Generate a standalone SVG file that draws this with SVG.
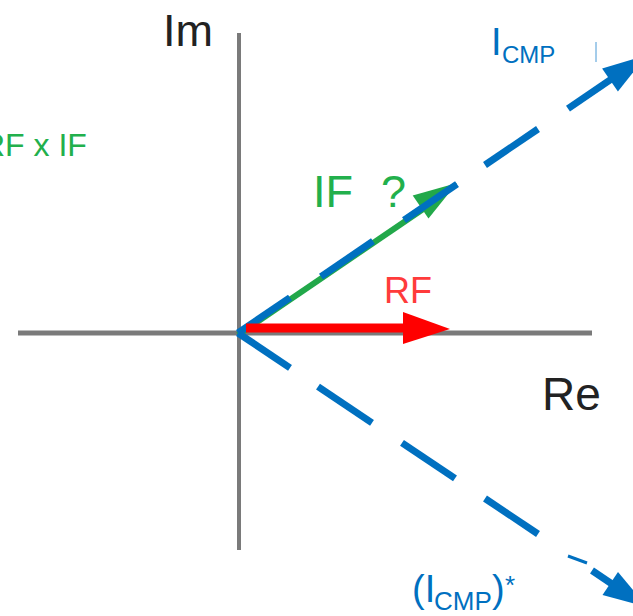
<svg xmlns="http://www.w3.org/2000/svg" width="633" height="616" viewBox="0 0 633 616">
<style>
text{font-family:"Liberation Sans",Arial,sans-serif}
.axis{stroke:#7a7a7a;fill:none}
.blue{stroke:#0070c0;stroke-width:7;fill:none;stroke-linecap:butt}
.bluefill{fill:#0070c0}
.lbl-blue{fill:#0070c0}
.lbl-green{fill:#22b04c}
.lbl-dark{fill:#222}
</style>
<rect width="633" height="616" fill="#fff"/>
<g id="axes">
<line class="axis" x1="18" y1="333" x2="592" y2="333" stroke-width="5"/>
<line class="axis" x1="239" y1="33" x2="239" y2="550" stroke-width="4" stroke="#6e6e6e"/>
</g>
<g id="connectors">
<g id="if-vector">
<line x1="238" y1="335" x2="432" y2="203" stroke="#22a84a" stroke-width="6"/>
<polygon points="457,183 412.7,195.4 428.5,218.6" fill="#22a84a"/>
</g>
<g id="icmp-vector">
<line class="blue" x1="238" y1="333" x2="290" y2="297.6"/>
<line class="blue" x1="321" y1="276.6" x2="373" y2="241.2"/>
<line class="blue" x1="404" y1="220.1" x2="457" y2="184.1"/>
<line class="blue" x1="485" y1="165" x2="538" y2="129"/>
<line class="blue" x1="568" y1="108.6" x2="612" y2="78.6"/>
<polygon class="bluefill" points="647,55 602.1,68.4 617.9,91.6"/>
<line x1="596" y1="42" x2="596" y2="62" stroke="#4a9ad6" stroke-width="1"/>
</g>
<g id="icmp-conj-vector">
<line class="blue" x1="238" y1="333" x2="290" y2="367.8"/>
<line class="blue" x1="318" y1="386.6" x2="372" y2="422.8"/>
<line class="blue" x1="402" y1="442.9" x2="455" y2="478.4"/>
<line class="blue" x1="485" y1="498.5" x2="538" y2="534"/>
<line x1="568" y1="556" x2="587" y2="563" stroke="#0070c0" stroke-width="3"/>
<line class="blue" x1="592" y1="570.5" x2="612" y2="584"/>
<polygon class="bluefill" points="647,607 618,572 602.5,595"/>
</g>
<g id="rf-vector">
<line x1="246" y1="328" x2="405" y2="328" stroke="#ff0000" stroke-width="9"/>
<polygon points="403,312 403,344 450,329" fill="#ff0000"/>
</g>
</g>
<g id="label-im"><text class="lbl-dark" x="163" y="46" font-size="45">Im</text></g>
<g id="label-re"><text class="lbl-dark" x="542" y="410" font-size="46">Re</text></g>
<g id="label-rfxif"><text class="lbl-green" x="-18" y="156" font-size="32">RF x IF</text></g>
<g id="label-if"><text class="lbl-green" x="313" y="207" font-size="45">IF<tspan x="381">?</tspan></text></g>
<g id="label-rf"><text x="384" y="303" font-size="36" fill="#ff3b3b">RF</text></g>
<g id="label-icmp"><text class="lbl-blue" x="491" y="55" font-size="38">I<tspan x="502" y="63" font-size="24">CMP</tspan></text></g>
<g id="label-icmp-conj"><text class="lbl-blue" x="412" y="602" font-size="38">(I<tspan x="434" y="610" font-size="26">CMP</tspan><tspan x="492" y="602">)</tspan><tspan x="505" y="594" font-size="26">*</tspan></text></g>
</svg>
